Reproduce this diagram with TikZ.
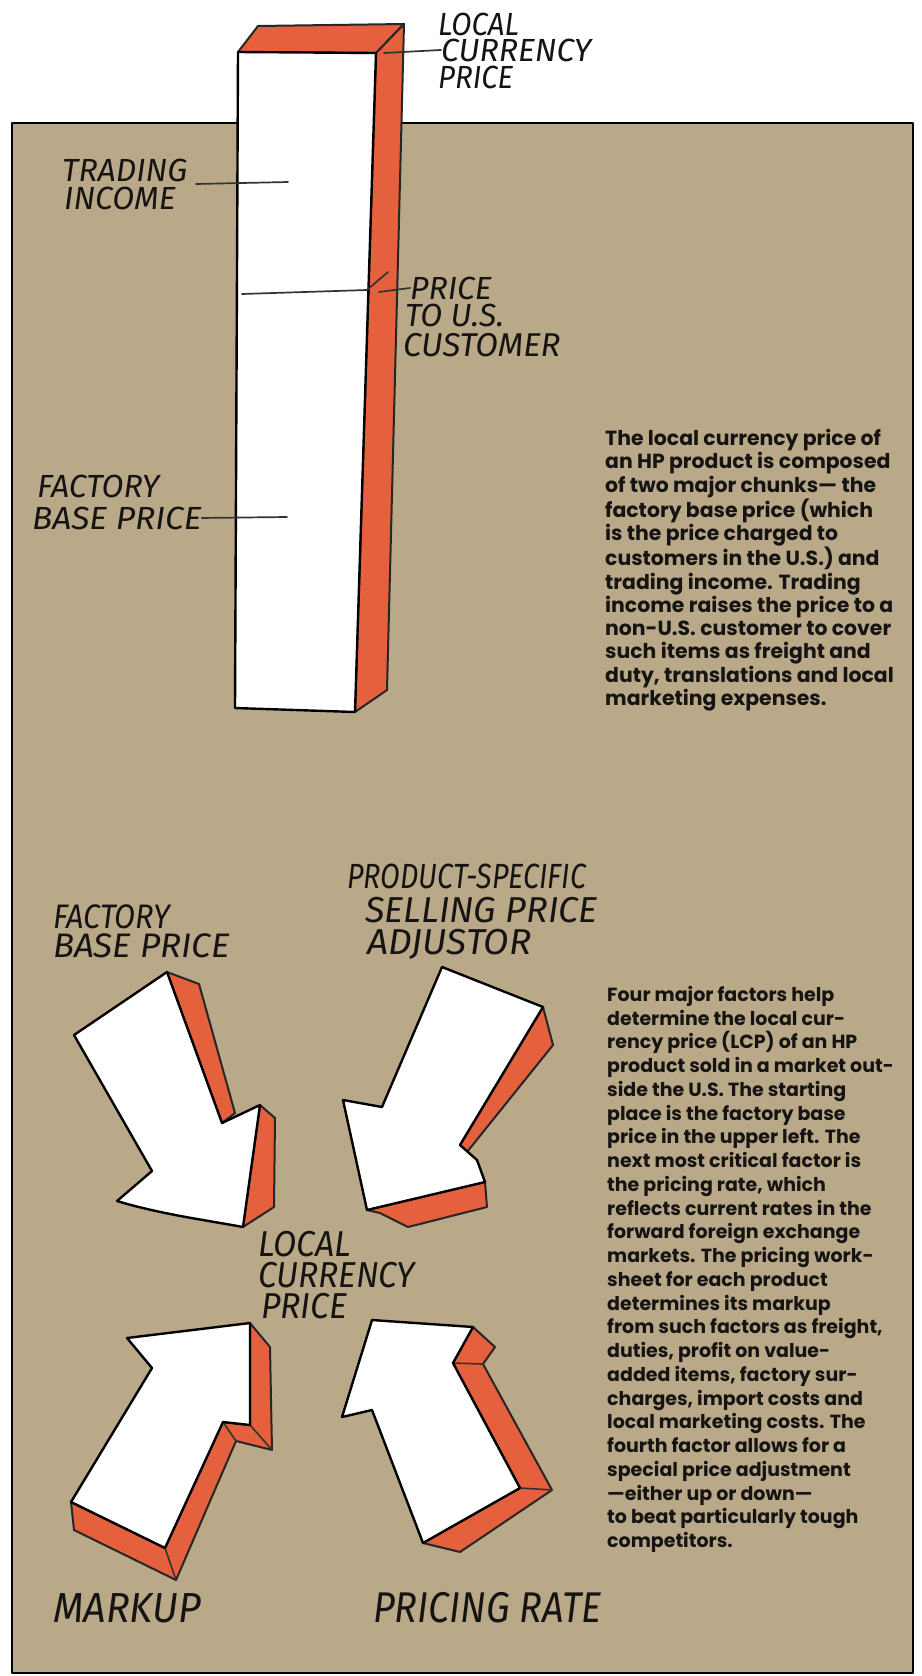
\documentclass[tikz,border=0pt]{standalone}
\usepackage{fontspec}
\usepackage{graphicx}
\newfontfamily\handfont{Fira Sans}
\newfontfamily\bodyfont{Poppins}
\definecolor{panel}{RGB}{186,169,136}
\definecolor{hpred}{RGB}{229,96,60}
\definecolor{ink}{RGB}{22,20,18}
\newcommand{\hsq}[2]{\scalebox{#1}[1]{#2}}
\begin{document}
\begin{tikzpicture}[x=1pt,y=-1pt,
  outline/.style={draw=black, line width=2.6pt, line join=round},
  redface/.style={fill=hpred, draw=black!85, line width=2pt, line join=round},
  whiteface/.style={fill=white, draw=black, line width=2.4pt, line join=round},
  crease/.style={draw=black!80, line width=1.6pt, line cap=round},
  leader/.style={draw=black!80, line width=1.7pt, line cap=round},
  hand/.style={font=\handfont\itshape\fontsize{#1}{#1}\selectfont, inner sep=0pt, anchor=base west, text=ink},
  para/.style 2 args={font=\bodyfont\bfseries\fontsize{#1}{#2}\selectfont, align=left, inner sep=0pt, anchor=north west, text=ink}]
\useasboundingbox (0,0) rectangle (921,1676);
\fill[white] (0,0) rectangle (921,1676);
% panel
\fill[panel] (12,123) rectangle (913,1673);
\draw[outline] (12,123) rectangle (913,1673);

% ---------- bar ----------
\coordinate (bFTL) at (238,52);
\coordinate (bBTL) at (258,26);
\coordinate (bBTR) at (404,24);
\coordinate (bFTR) at (376,53);
\coordinate (bBBR) at (387,690);
\coordinate (bFBR) at (355,712);
\coordinate (bFBL) at (235,708);
\path[redface] (bFTL) -- (bBTL) -- (bBTR) -- (bFTR) -- cycle;
\path[redface] (bFTR) -- (bBTR) -- (bBBR) -- (bFBR) -- cycle;
\path[whiteface] (bFTL) -- (bFTR) -- (bFBR) -- (bFBL) -- cycle;
% split line
\coordinate (sL) at (242,294);
\coordinate (sR) at (367,290);
\coordinate (sD) at (388,272);
\draw[leader] (sL) -- (sR) -- (sD);

% ---------- top labels ----------
\node[hand=32] (tlcpA) at (438,35) {\hsq{0.92}{LOCAL}};
\node[hand=32] (tlcpB) at (441,61) {CURRENCY};
\node[hand=32] (tlcpC) at (438,88) {\hsq{0.92}{PRICE}};
\coordinate (tlcpLead) at (384,53);
\draw[leader] (tlcpLead) -- (tlcpB.west);

\node[hand=32] (tiA) at (62,181) {TRADING};
\node[hand=32] (tiB) at (64,209) {INCOME};
\coordinate (tiLeadA) at (196,184);
\coordinate (tiLeadB) at (288,182);
\draw[leader] (tiLeadA) -- (tiLeadB);

\node[hand=32] (puA) at (410,299) {PRICE};
\node[hand=32] (puB) at (405,326) {TO U.S.};
\node[hand=33] (puC) at (403,356) {CUSTOMER};
\coordinate (puLead) at (379,292);
\draw[leader] (puLead) -- (puA.west);

\node[hand=32] (fbA) at (37,497) {FACTORY};
\node[hand=32] (fbB) at (32,529) {\hsq{1.05}{BASE PRICE}};
\coordinate (fbLead) at (287,517);
\draw[leader] (fbB.east) -- (fbLead);

% ---------- paragraph 1 ----------
\node[para={20.4}{23.3}] (parA) at (605,429) {The local currency price of\\
an HP product is composed\\
of two major chunks— the\\
factory base price (which\\
is the price charged to\\
customers in the U.S.) and\\
trading income. Trading\\
income raises the price to a\\
non-U.S. customer to cover\\
such items as freight and\\
duty, translations and local\\
marketing expenses.};

% ---------- bottom labels ----------
\node[hand=34] (bfA) at (53,928) {\hsq{0.9}{FACTORY}};
\node[hand=34] (bfB) at (53,957) {\hsq{1.03}{BASE PRICE}};
\node[hand=35] (psA) at (347,888) {\hsq{0.82}{PRODUCT-SPECIFIC}};
\node[hand=36] (psB) at (365,922) {SELLING PRICE};
\node[hand=36] (psC) at (367,954) {\hsq{1.03}{ADJUSTOR}};
\node[hand=36] (clA) at (258,1256) {\hsq{0.94}{LOCAL}};
\node[hand=36] (clB) at (258,1287) {\hsq{0.93}{CURRENCY}};
\node[hand=36] (clC) at (261,1318) {\hsq{0.94}{PRICE}};
\node[hand=42] (mk) at (53,1622) {\hsq{0.94}{MARKUP}};
\node[hand=43] (pr) at (373,1622) {\hsq{0.88}{PRICING RATE}};

% ---------- arrow 1 (upper left) ----------
\path[redface] (167,972) -- (199,984) -- (235,1113) -- (222,1123) -- cycle;
\path[redface] (260,1105) -- (275,1118) -- (274,1207) -- (243,1227) -- cycle;
\path[whiteface] (167,972) -- (74,1035) -- (152,1171) -- (117,1201)
   .. controls (160,1214) and (205,1220) .. (243,1227) -- (260,1105) -- (222,1123) -- cycle;

% ---------- arrow 2 (upper right) ----------
\path[redface] (543,1007) -- (553,1045) -- (467,1152) -- (460,1145) -- cycle;
\path[redface] (367,1210) -- (485,1182) -- (487,1207) -- (408,1227) -- (380,1213) -- cycle;
\path[whiteface] (442,967) -- (543,1007) -- (460,1145) -- (477,1160) -- (485,1182)
   -- (367,1210) -- (343,1100) -- (382,1107) -- cycle;

% ---------- arrow 3 (lower left) ----------
\path[redface] (250,1323) -- (270,1347) -- (272,1450) -- (236,1441) -- (176,1580)
   -- (74,1530) -- (71,1502) -- (165,1548) -- (223,1422) -- (250,1425) -- cycle;
\draw[crease] (223,1422) -- (236,1441);
\draw[crease] (250,1425) -- (272,1450);
\draw[crease] (165,1548) -- (176,1580);
\path[whiteface] (127,1338) -- (250,1323) -- (250,1425) -- (223,1422) -- (165,1548)
   -- (71,1502) -- (152,1368) -- cycle;

% ---------- arrow 4 (lower right) ----------
\path[redface] (473,1327) -- (495,1347) -- (483,1364) -- (552,1490) -- (460,1552)
   -- (423,1543) -- (520,1488) -- (453,1363) -- cycle;
\draw[crease] (453,1363) -- (483,1364);
\draw[crease] (520,1488) -- (552,1490);
\path[whiteface] (372,1320) -- (473,1327) -- (453,1363) -- (520,1488) -- (423,1543)
   -- (372,1410) -- (342,1417) -- cycle;

% ---------- paragraph 2 ----------
\node[para={19}{23.75}] (parB) at (607,986) {Four major factors help\\
determine the local cur-\\
rency price (LCP) of an HP\\
product sold in a market out-\\
side the U.S. The starting\\
place is the factory base\\
price in the upper left. The\\
next most critical factor is\\
the pricing rate, which\\
reflects current rates in the\\
forward foreign exchange\\
markets. The pricing work-\\
sheet for each product\\
determines its markup\\
from such factors as freight,\\
duties, profit on value-\\
added items, factory sur-\\
charges, import costs and\\
local marketing costs. The\\
fourth factor allows for a\\
special price adjustment\\
—either up or down—\\
to beat particularly tough\\
competitors.};
\end{tikzpicture}
\end{document}
